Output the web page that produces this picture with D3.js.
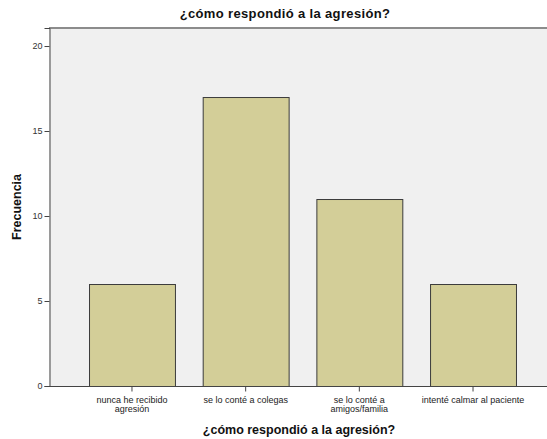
<!DOCTYPE html>
<html><head><meta charset="utf-8">
<script src="https://cdn.jsdelivr.net/npm/d3@7"></script>
<style>body{margin:0;background:#fff}svg{display:block}text{font-family:Arial,"Liberation Sans",sans-serif}</style>
</head><body><svg id="c" width="547" height="439"></svg>
<script>
const categories = ["nunca he recibido agresión","se lo conté a colegas","se lo conté a amigos/familia","intenté calmar al paciente"];
const labelLines = [["nunca he recibido","agresión"],["se lo conté a colegas"],["se lo conté a","amigos/familia"],["intenté calmar al paciente"]];
const values = [6,17,11,6];
const yTicks = [0,5,10,15,20];
const title = "¿cómo respondió a la agresión?";
const xTitle = "¿cómo respondió a la agresión?";
const yTitle = "Frecuencia";

const svg = d3.select("#c");
const L=49, R=556, T=28, B=386;
const x = d3.scaleBand().domain(categories).range([L,R]).paddingInner(0.244).paddingOuter(0.352);
const y = d3.scaleLinear().domain([0,21.06]).range([B,T]);

svg.append("rect").attr("x",L).attr("y",T).attr("width",R-L).attr("height",B-T).attr("fill","#f0f0f0");
svg.append("line").attr("x1",L).attr("x2",R).attr("y1",T).attr("y2",T).attr("stroke","#8c8c8c").attr("stroke-width",2);

svg.selectAll("rect.bar").data(values).enter().append("rect").attr("class","bar")
  .attr("x",(d,i)=>x(categories[i])+0.5).attr("y",d=>y(d)+0.5)
  .attr("width",x.bandwidth()).attr("height",d=>B-y(d))
  .attr("fill","#d3ce98").attr("stroke","#3c3c3c").attr("stroke-width",1);

// y axis
const ya = svg.append("g").attr("transform",`translate(${L+0.5},0)`)
  .call(d3.axisLeft(y).tickValues(yTicks).tickSize(5).tickPadding(2));
ya.select(".domain").attr("stroke","#444");
ya.selectAll(".tick line").attr("stroke","#444");
ya.selectAll(".tick text").attr("font-size","9px").attr("fill","#333").attr("font-family","Arial,'Liberation Sans',sans-serif");

// x axis
const xa = svg.append("g").attr("transform",`translate(0,${B+0.5})`)
  .call(d3.axisBottom(x).tickSize(5).tickFormat(""));
xa.select(".domain").attr("stroke","#444").attr("d",`M${L},0H${R}`);
xa.selectAll(".tick line").attr("stroke","#444");
xa.selectAll(".tick").each(function(d,i){
  const t=d3.select(this).append("text").attr("fill","#222").attr("font-size","9px").attr("text-anchor","middle").attr("y",16);
  labelLines[i].forEach((s,j)=>t.append("tspan").attr("x",0).attr("dy",j?"9":"0").text(s));
});

svg.append("text").attr("x",285).attr("y",18).attr("text-anchor","middle").attr("font-size","13px").attr("letter-spacing","0.35px").attr("font-weight","bold").attr("fill","#111").text(title);
svg.append("text").attr("x",299).attr("y",434).attr("text-anchor","middle").attr("font-size","12.5px").attr("font-weight","bold").attr("fill","#111").text(xTitle);
svg.append("text").attr("transform","translate(21,207) rotate(-90)").attr("text-anchor","middle").attr("font-size","12.5px").attr("font-weight","bold").attr("fill","#111").text(yTitle);
</script></body></html>
